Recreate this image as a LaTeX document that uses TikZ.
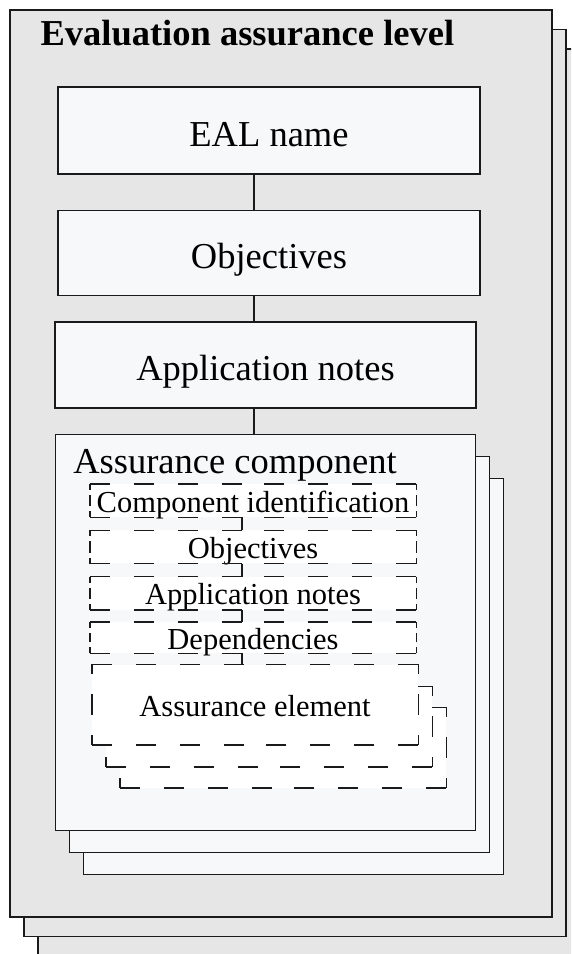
\documentclass[tikz,border=0pt]{standalone}
\usepackage{fontspec}
\setmainfont{Liberation Serif}
\usetikzlibrary{positioning}
\definecolor{framegray}{HTML}{E6E6E6}
\definecolor{panelfill}{HTML}{F7F8FA}
\definecolor{inkline}{HTML}{1A1A1A}
\newcommand{\bigtext}{\fontsize{36.5}{40}\selectfont}
\newcommand{\smalltext}{\fontsize{30.5}{34}\selectfont}
\tikzset{
    frame/.style={draw=inkline, line width=1.4pt, fill=framegray, inner sep=0pt,
      minimum width=542pt, minimum height=907pt},
    panel/.style={draw=inkline, line width=1.4pt, fill=panelfill, inner sep=0pt,
      font=\bigtext, text height=32pt, text depth=0pt},
    part/.style={fill=white, inner sep=0pt, font=\smalltext, text height=23pt, text depth=0pt,
      minimum width=326pt, minimum height=33pt},
    hdash/.style={draw=inkline, line width=1.4pt, dash pattern=on 20pt off 24pt},
    vdash/.style={draw=inkline, line width=1.4pt, dash pattern=#1},
    vdash/.default={on 6pt off 5pt on 20pt off 24pt},
    link/.style={draw=inkline, line width=1.4pt},
  }
% dashed border, each half side starts at a corner
\newcommand{\partedges}[2][on 6pt off 5pt on 20pt off 24pt]{%
  \draw[hdash] (#2.north west) -- (#2.north) (#2.north east) -- (#2.north)
               (#2.south west) -- (#2.south) (#2.south east) -- (#2.south);
  \draw[vdash={#1}] (#2.north west) -- (#2.west) (#2.south west) -- (#2.west)
                    (#2.north east) -- (#2.east) (#2.south east) -- (#2.east);}
\begin{document}
\begin{tikzpicture}[x=1pt, y=1pt]
    \useasboundingbox (0,0) rectangle (571,-954);
    \clip (0,0) rectangle (571,-954);

    \coordinate (levelc) at (281,-463.5);
    \node[frame] (level3) at ([shift={(28pt,-39pt)}]levelc) {};
    \node[frame] (level2) at ([shift={(14pt,-19.5pt)}]levelc) {};
    \node[frame] (level) at (levelc) {};
    \node[anchor=base west, font=\bigtext\bfseries] (title) at (37,-45) {Evaluation assurance level};

    \coordinate (spine) at (254,0);
    \coordinate (subspine) at (242,0);

    \node[panel, minimum width=422pt, minimum height=87pt] (name) at (269,-130.5) {EAL name};

    \node[panel, minimum width=422pt, minimum height=85pt, below=35pt of name] (obj) {Objectives};
    \draw[link] (name.south -| spine) -- (obj.north -| spine);

    \node[panel, minimum width=421pt, minimum height=86pt, below=25pt of obj, xshift=-3.5pt] (notes) {Application notes};
    \draw[link] (obj.south -| spine) -- (notes.north -| spine);

    %% component, with two copies behind it
    \coordinate (comptop) at ([yshift=-25pt]notes.south);
    \node[panel, anchor=north, minimum width=420pt, minimum height=396pt] (comp3) at ([shift={(28pt,-44pt)}]comptop) {};
    \node[panel, anchor=north, minimum width=420pt, minimum height=396pt] (comp2) at ([shift={(14pt,-22pt)}]comptop) {};
    \node[panel, anchor=north, minimum width=420pt, minimum height=396pt] (comp) at (comptop) {};
    \draw[link] (notes.south -| spine) -- (comp.north -| spine);
    \node[anchor=base west, font=\bigtext] (comptitle) at ([xshift=15pt, yshift=-40pt]comp.north west) {Assurance component};

    %% parts of the component
    \node[part] (ident) at (253,-500.5) {Component identification};
    \partedges{ident}

    \node[part, below=13pt of ident] (pobj) {Objectives};
    \partedges{pobj}
    \draw[link] (ident.south -| subspine) -- (pobj.north -| subspine);

    \node[part, below=13pt of pobj] (pnotes) {Application notes};
    \partedges{pnotes}
    \draw[link] (pobj.south -| subspine) -- (pnotes.north -| subspine);

    \node[part, minimum height=31pt, below=12pt of pnotes] (deps) {Dependencies};
    \partedges{deps}
    \draw[link] (pnotes.south -| subspine) -- (deps.north -| subspine);

    %% element, with two copies behind it
    \coordinate (elemtop) at ([xshift=2pt, yshift=-11pt]deps.south);
    \node[part, anchor=north, minimum height=80pt] (elem3) at ([shift={(28pt,-43pt)}]elemtop) {};
    \partedges[on 10pt off 20pt on 20pt off 24pt]{elem3}
    \node[part, anchor=north, minimum height=80pt] (elem2) at ([shift={(14pt,-22pt)}]elemtop) {};
    \partedges[on 10pt off 20pt on 20pt off 24pt]{elem2}
    \node[part, anchor=north, minimum height=80pt] (elem) at (elemtop) {Assurance element};
    \partedges[on 10pt off 20pt on 20pt off 24pt]{elem}
    \draw[link] (deps.south -| subspine) -- (elem.north -| subspine);
  \end{tikzpicture}
\end{document}
